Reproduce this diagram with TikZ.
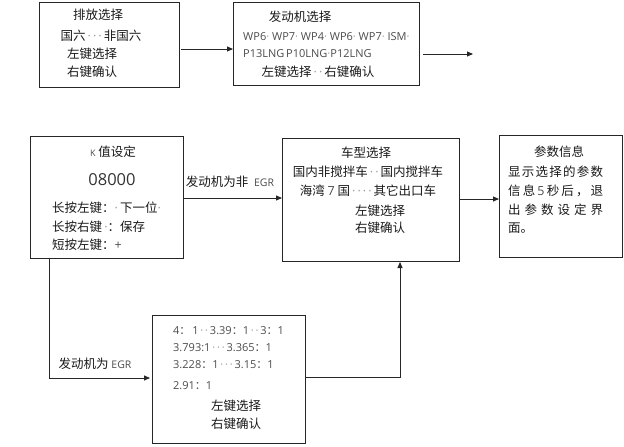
\documentclass[tikz,border=0pt]{standalone}
\usepackage{fontspec}
\setmainfont{Open Sans}
\newfontfamily\cjk{Noto Sans CJK SC}
\usetikzlibrary{arrows.meta}
\newcommand\lt[1]{{\rmfamily\color{black!70}#1}}
\newcommand\dd{{\rmfamily\color{black!40}·}}
\begin{document}
\begin{tikzpicture}[x=1pt,y=-1pt,
  box/.style={draw=black!85,line width=1pt,inner sep=0pt,anchor=north west},
  cn/.style={font=\cjk\fontsize{12.5}{14}\selectfont,text=black!90,inner sep=0pt},
  lat/.style={font=\rmfamily\fontsize{11}{13}\selectfont,text=black!70,inner sep=0pt},
  conn/.style={draw=black!85,line width=0.9pt},
  arr/.style={conn,-{Triangle[length=6pt,width=5pt]}}]
\useasboundingbox (0,0) rectangle (624,447);
% boxes
\node[box,minimum width=140pt,minimum height=85pt] (b1) at (39,2) {};
\node[box,minimum width=186pt,minimum height=83pt] (b2) at (233,2) {};
\node[box,minimum width=153pt,minimum height=122pt] (bk) at (30,136) {};
\node[box,minimum width=177pt,minimum height=123pt] (bc) at (282,138) {};
\node[box,minimum width=123pt,minimum height=122pt] (bp) at (499,135) {};
\node[box,minimum width=153pt,minimum height=128pt] (br) at (152,315) {};
% box 1 texts
\node[cn] (t11) at (98,15) {排放选择};
\node[cn] (t12) at (101,36) {国六\,\dd\,\dd\,\dd\,非国六};
\node[cn] (t13) at (92,54) {左键选择};
\node[cn] (t14) at (92,72) {右键确认};
% box 2 texts
\node[cn] (t21) at (300,17) {发动机选择};
\node[lat,anchor=west] (t22) at (243,37) {WP6\dd\ WP7\dd\ WP4\dd\ WP6\dd\ WP7\dd\ ISM\dd};
\node[lat,anchor=west] (t23) at (243,54) {P13LNG\,P10LNG\dd P12LNG};
\node[cn] (t24) at (318,72) {左键选择\,\dd\,\dd\,右键确认};
% K box texts
\node[cn] (tk1) at (113,152) {\lt{\fontsize{9}{12}\selectfont K} 值设定};
\node[lat,font=\rmfamily\fontsize{16.5}{20}\selectfont,text=black!80] (tk2) at (112,180) {08000};
\node[cn,anchor=west] (tk3) at (52,208) {长按左键：\dd\,下一位\dd};
\node[cn,anchor=west] (tk4) at (52,227) {长按右键\,\dd：保存};
\node[cn,anchor=west] (tk5) at (52,245) {短按左键：\lt{+}};
% car box texts
\node[cn] (tc1) at (366,153) {车型选择};
\node[cn] (tc2) at (368,172) {国内非搅拌车\,\dd\,\dd\,国内搅拌车};
\node[cn] (tc3) at (368,191) {海湾 \lt{7} 国\,\dd\,\dd\,\dd\,\dd\,其它出口车};
\node[cn] (tc4) at (380,211) {左键选择};
\node[cn] (tc5) at (380,228) {右键确认};
% param box texts
\node[cn] (tp1) at (559,152) {参数信息};
\node[cn,anchor=west] (tp2) at (508,172) {\makebox[95pt][l]{显\hfill 示\hfill 选\hfill 择\hfill 的\hfill 参\hfill 数}};
\node[cn,anchor=west] (tp3) at (508,191) {\makebox[95pt][l]{信\hfill 息\hfill \lt{5}\hfill 秒\hfill 后\hfill ，\hfill 退}};
\node[cn,anchor=west] (tp4) at (508,210) {\makebox[95pt][l]{出\hfill 参\hfill 数\hfill 设\hfill 定\hfill 界}};
\node[cn,anchor=west] (tp5) at (508,228) {面。};
% ratio box texts
\node[lat,anchor=west] (tr1) at (173,331) {4{\cjk ：}\,1\,\dd\,\dd\,3.39{\cjk ：}1\,\dd\,\dd\,3{\cjk ：}1};
\node[lat,anchor=west] (tr2) at (173,348) {3.793:1\,\dd\,\dd\,\dd\,3.365{\cjk ：}1};
\node[lat,anchor=west] (tr3) at (173,365) {3.228{\cjk ：}1\,\dd\,\dd\,\dd\,3.15{\cjk ：}1};
\node[lat,anchor=west] (tr4) at (173,386) {2.91{\cjk ：}1};
\node[cn] (tr5) at (236,406) {左键选择};
\node[cn] (tr6) at (236,424) {右键确认};
% connectors
\coordinate (a1) at (181,49);
\draw[arr] (a1) -- (a1 -| b2.west);
\coordinate (a2s) at (423,54);
\coordinate (a2e) at (473,54);
\draw[arr] (a2s) -- (a2e);
\coordinate (a3) at (183,198);
\draw[arr] (a3) -- (a3 -| bc.west);
\coordinate (a4) at (459,199);
\draw[arr] (a4) -- (a4 -| bp.west);
\coordinate (a5) at (49,258);
\coordinate (a5c) at (49,378);
\coordinate (a5e) at (150,378);
\draw[arr] (a5) -- (a5c) -- (a5e);
\coordinate (a6) at (305,377);
\coordinate (a6c) at (400,377);
\draw[arr] (a6) -- (a6c) -- (a6c |- bc.south);
% labels
\node[cn] (l1) at (230,182) {发动机为非\ \ \lt{\fontsize{10.5}{12}\selectfont EGR}};
\node[cn] (l2) at (95,364) {发动机为 \lt{\fontsize{10.5}{12}\selectfont EGR}};
\end{tikzpicture}
\end{document}
